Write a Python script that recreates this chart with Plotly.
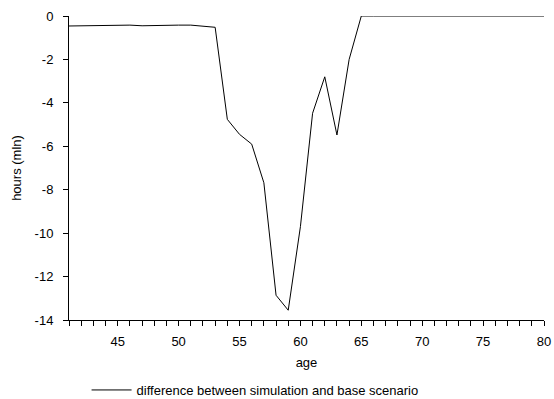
import plotly.graph_objects as go

ages = list(range(41, 81))
diff = [-0.46, -0.45, -0.44, -0.43, -0.41, -0.42, -0.45, -0.43, -0.42, -0.42,
        -0.42, -0.47, -0.52, -4.76, -5.45, -5.90, -7.68, -12.86, -13.55, -9.70,
        -4.48, -2.80, -5.48, -2.00, 0.0, 0.0, 0.0, 0.0, 0.0, 0.0,
        0.0, 0.0, 0.0, 0.0, 0.0, 0.0, 0.0, 0.0, 0.0, 0.0]
x_tickvals = list(range(41, 81))
x_ticktext = [str(v) if v % 5 == 0 else "" for v in x_tickvals]
y_tickvals = [0, -2, -4, -6, -8, -10, -12, -14]
y_ticktext = ["0", "-2", "-4", "-6", "-8", "-10", "-12", "-14"]

font = "Liberation Sans, Arial, Helvetica, sans-serif"

fig = go.Figure()
fig.add_trace(go.Scatter(x=ages, y=diff, mode="lines",
                         line=dict(color="black", width=1),
                         name="difference between simulation and base scenario"))

fig.update_layout(
    width=554, height=399,
    margin=dict(l=69, r=10, t=16, b=79, autoexpand=False),
    paper_bgcolor="white", plot_bgcolor="white",
    font=dict(family=font, size=13, color="black"),
    showlegend=True,
    legend=dict(orientation="h", x=0.037, xanchor="left",
                y=(320 - 390) / 304, yanchor="middle",
                font=dict(size=13), bgcolor="rgba(0,0,0,0)", itemwidth=40),
    xaxis=dict(range=[41, 80], tickvals=x_tickvals, ticktext=x_ticktext,
               ticks="outside", ticklen=5, tickcolor="black", tickwidth=1,
               showline=True, linecolor="black", linewidth=1, showgrid=False,
               zeroline=False, automargin=False, ticklabelstandoff=4,
               title=dict(text="age", standoff=10, font=dict(size=13))),
    yaxis=dict(range=[-14, 0], tickvals=y_tickvals, ticktext=y_ticktext,
               ticks="outside", ticklen=5, tickcolor="black", tickwidth=1,
               showline=True, linecolor="black", linewidth=1, showgrid=False,
               zeroline=False, automargin=False, ticklabelstandoff=7,
               title=dict(text="hours (mln)", standoff=10, font=dict(size=13))),
)

fig.write_html("out.html")
